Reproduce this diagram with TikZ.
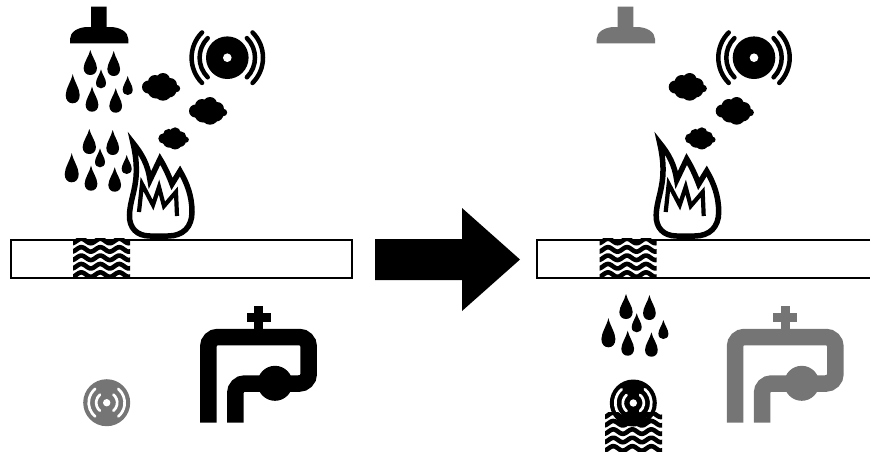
\documentclass[tikz,border=0pt]{standalone}
\usepackage{tikz}
\usetikzlibrary{calc}

\definecolor{iconGray}{HTML}{757575}

\tikzset{
  % Sprinkler head, drawn where it stands on the left
  sprinkler/.pic={
    \fill[pic actions] (91,6.7) -- (106.7,6.7) -- (106.7,27) -- (110,27)
        .. controls (120,27) and (128.3,32) .. (128.3,39) -- (128.3,43.3) -- (70,43.3) -- (70,39)
        .. controls (70,32) and (78,27) .. (88,27) -- (91,27) -- cycle;
  },
  % One bunch of seven drops: x/top/width/height
  rain/.pic={
    \foreach \dx/\dt/\dw/\dh in {90.3/50/13.3/25, 113.7/51/12.7/25, 101/69.3/10/19,
        127.7/76/10/19, 72.7/74/14/29.3, 92/86.7/12.7/25, 115.7/88.3/12.7/24.4} {
      \begin{scope}[shift={(\dx,\dt)}, xscale=\dw, yscale=\dh]
        \fill (0,0) .. controls (0.1,0.25) and (0.5,0.5) .. (0.5,0.72)
            .. controls (0.5,0.9) and (0.28,1) .. (0,1)
            .. controls (-0.28,1) and (-0.5,0.9) .. (-0.5,0.72)
            .. controls (-0.5,0.5) and (-0.1,0.25) .. (0,0);
      \end{scope}
    }
  },
  % Smoke puff
  puff/.pic={
    \foreach \cx/\cy/\cr in {-12.5/0/6.5, -6/-5/7, 2/-7/7, 9/-2/7, 15.5/1.5/3.7, 2/5/8.7, -5/3/8.5, 8/3/7.5} {
      \fill (\cx,\cy) circle (\cr);
    }
  },
  % Alarm with two pairs of sound arcs
  siren/.pic={
    \fill (0,0) circle (21.3);
    \fill[white] (0,0) circle (4.3);
    \foreach \ar in {27.7, 35.7} {
      \draw[line width=4.5, line cap=round] (-45:\ar) arc (-45:45:\ar);
      \draw[line width=4.5, line cap=round] (135:\ar) arc (135:225:\ar);
    }
  },
  % Solid disc with the arcs cut out of it
  sirendisc/.pic={
    \fill[pic actions] (0,0) circle (23.5);
    \fill[white] (0,0) circle (3.7);
    \foreach \ar in {10.5, 18} {
      \draw[white, line width=2.7, line cap=round] (-50:\ar) arc (-50:50:\ar);
      \draw[white, line width=2.7, line cap=round] (130:\ar) arc (130:230:\ar);
    }
  },
  % Flame outline and its inner zigzag
  flame/.pic={
    \draw[fill=white, line width=5.5, line join=miter, miter limit=6] (133,143)
        .. controls (142,154) and (148,165) .. (150,180) -- (160,159)
        .. controls (165,167) and (169,176) .. (172,184) -- (180,171)
        .. controls (187,183) and (192,196) .. (192,212)
        .. controls (192,227) and (183,236) .. (168,236) -- (150,236)
        .. controls (137,236) and (129,228) .. (129.5,215)
        .. controls (130,195) and (142,182) .. (133,143) -- cycle;
    \draw[line width=4.2, line join=miter, miter limit=6] (139,212) -- (142,184) -- (153,205) -- (159,187)
        -- (164,206) -- (176,192) -- (177,216);
  },
  % Water: wavy strips cut off at a box 57 wide and 38.5 high
  water/.pic={
    \begin{scope}
      \clip (0,0) rectangle (57,38.5);
      \foreach \wy in {2.3, 10.7, 19.1, 27.5, 35.9} {
        \draw[line width=4.6] plot[smooth, domain=-2:59, samples=90] (\x,{\wy-2.2*cos((\x-8.3)*18.95)});
      }
    \end{scope}
  },
  % Pipe loop with valve and hand wheel
  pipe/.pic={
    \draw[pic actions, fill=none, line width=16.5, rounded corners=9.5] (208.3,422.7) -- (208.3,337) -- (308.7,337)
        -- (308.7,383.5) -- (235.3,383.5) -- (235.3,422.7);
    \fill[pic actions, draw=none] (275,383.3) circle (17.5);
    \fill[pic actions, draw=none] (254,305.7) rectangle (263.3,330);
    \fill[pic actions, draw=none] (246.7,312.7) rectangle (270.7,321.7);
  },
  wall/.style={draw=black, line width=2, fill=white}
}

\begin{document}
\begin{tikzpicture}[x=1pt, y=-1pt]
  \useasboundingbox (0,0) rectangle (870,456);

  % Left state: sprinkler on, water in the wall
  \pic at (0,0) {sprinkler};
  \pic at (0,0) {rain};
  \pic at (-1,79) {rain};
  \pic at (161,87) {puff};
  \pic at (208,111) {puff};
  \pic[scale=0.8] at (173.5,138.5) {puff};
  \pic at (227.3,57.7) {siren};
  \pic at (0,0) {flame};
  \draw[wall] (11,240) rectangle (352,277.5);
  \pic at (73,238.7) {water};
  \pic[fill=iconGray] at (106.7,402.7) {sirendisc};
  \pic[draw=black, fill=black] at (0,0) {pipe};

  % Arrow between the two states
  \fill (375,239) -- (462,239) -- (462,208) -- (520,259.5) -- (462,311) -- (462,280) -- (375,280) -- cycle;

  % Right state: sprinkler and pipe grey, water runs through
  \pic[fill=iconGray] at (526.7,0) {sprinkler};
  \pic at (687.7,87) {puff};
  \pic at (734.7,111) {puff};
  \pic[scale=0.8] at (700.2,138.5) {puff};
  \pic at (754,57.7) {siren};
  \pic at (526.7,0) {flame};
  \draw[wall] (537.3,240) rectangle (880,277.5);
  \pic at (599.7,238.7) {water};
  \pic at (535.7,244) {rain};
  \pic[fill=black] at (633.3,403) {sirendisc};
  \pic at (605,412.5) {water};
  \pic[draw=iconGray, fill=iconGray] at (526.7,0) {pipe};

\end{tikzpicture}
\end{document}
